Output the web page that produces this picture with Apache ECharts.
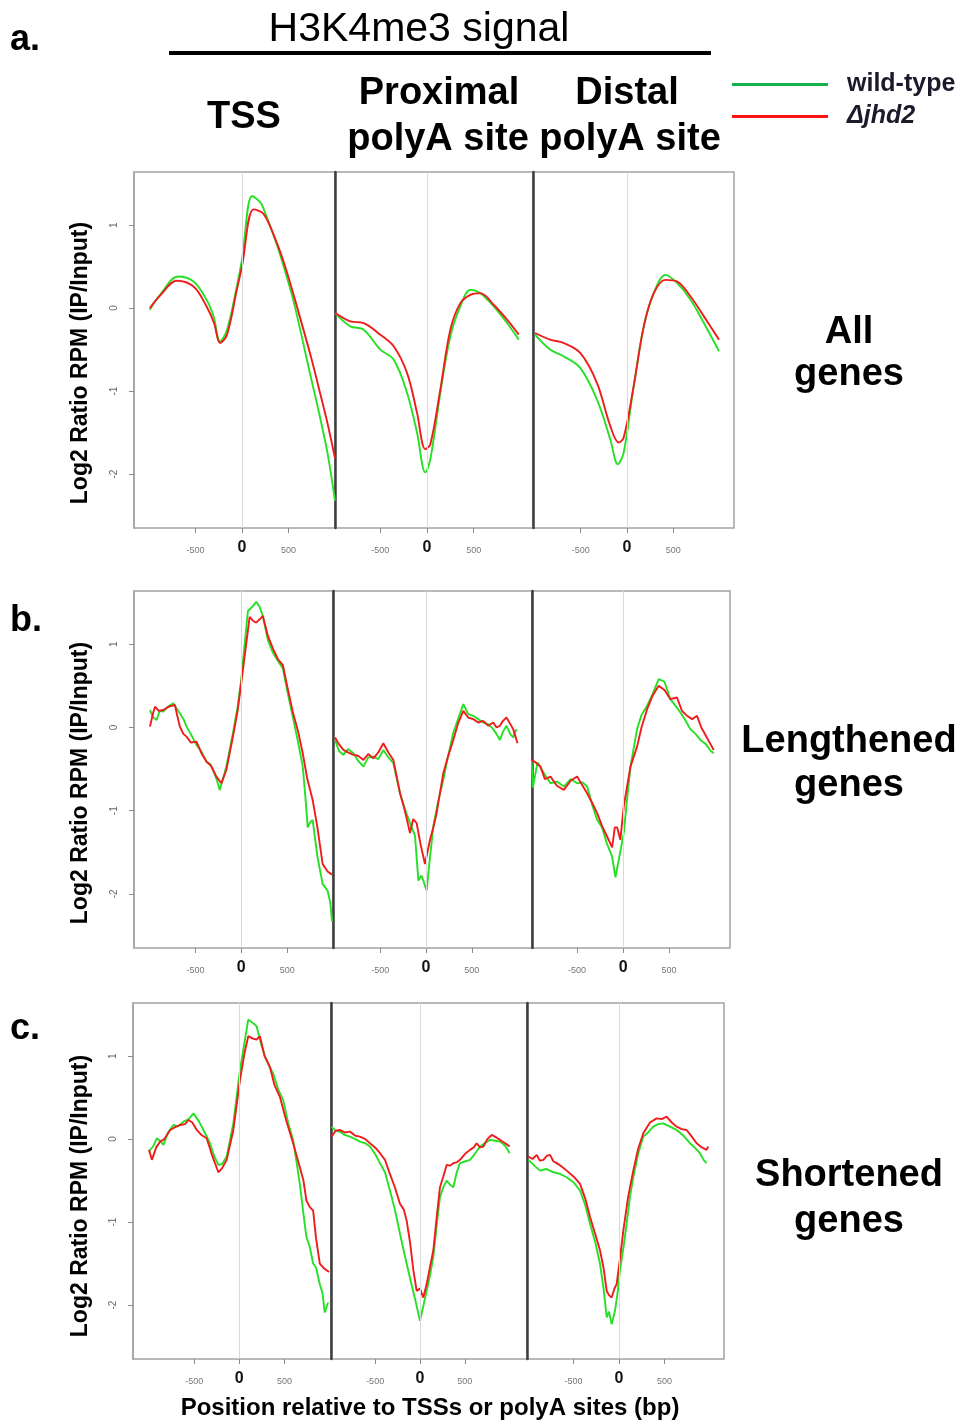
<!DOCTYPE html>
<html><head><meta charset="utf-8">
<script src="https://cdn.jsdelivr.net/npm/echarts@6/dist/echarts.min.js"></script>
<style>html,body{margin:0;padding:0;background:#fff}#c{width:966px;height:1422px}</style>
</head><body><div id="c"></div>
<script>
// ---------------- DATA ----------------
const SERIES_NAMES = ['wild-type', 'Δjhd2'];
const PANEL_TITLES = ['TSS', 'Proximal\npolyA site', 'Distal\npolyA site'];
const ROW_LABELS = [['All', 'genes'], ['Lengthened', 'genes'], ['Shortened', 'genes']];
const ROW_TAGS = ['a.', 'b.', 'c.'];
const X_TICKS = [-500, 0, 500];
const Y_TICKS = [-2, -1, 0, 1];

// a. All genes  [position bp, log2 ratio]
const A_TSS_WT = [[-990,-0.02],[-880,0.16],[-685,0.38],[-520,0.32],[-380,0.10],[-305,-0.10],[-235,-0.40],[-160,-0.26],[-55,0.26],[0,0.58],[110,1.35],[200,1.27],[235,1.19],[380,0.75],[470,0.42],[560,0.06],[740,-0.83],[830,-1.27],[920,-1.75],[1000,-2.32]];
const A_TSS_KO = [[-990,0.0],[-880,0.15],[-700,0.33],[-520,0.26],[-380,0.02],[-300,-0.18],[-235,-0.42],[-160,-0.32],[-55,0.22],[0,0.50],[125,1.19],[235,1.13],[380,0.77],[470,0.48],[560,0.14],[740,-0.58],[830,-0.98],[920,-1.39],[1000,-1.81]];
const A_PROX_WT = [[-982,-0.06],[-821,-0.22],[-678,-0.26],[-500,-0.50],[-357,-0.62],[-214,-1.02],[-107,-1.50],[-18,-1.98],[36,-1.82],[143,-1.02],[250,-0.34],[357,0.02],[464,0.22],[571,0.18],[714,0.02],[857,-0.18],[982,-0.38]];
const A_PROX_KO = [[-982,-0.06],[-821,-0.16],[-678,-0.18],[-500,-0.32],[-357,-0.46],[-214,-0.78],[-107,-1.26],[-18,-1.70],[36,-1.64],[143,-0.98],[250,-0.26],[357,0.06],[464,0.16],[571,0.18],[714,0.04],[857,-0.14],[982,-0.32]];
const A_DIST_WT = [[-993,-0.32],[-830,-0.50],[-686,-0.58],[-505,-0.72],[-325,-1.10],[-181,-1.58],[-100,-1.88],[-36,-1.74],[72,-0.94],[181,-0.22],[289,0.18],[415,0.40],[542,0.30],[686,0.10],[830,-0.18],[993,-0.52]];
const A_DIST_KO = [[-993,-0.30],[-830,-0.38],[-686,-0.42],[-505,-0.54],[-325,-0.90],[-181,-1.42],[-90,-1.62],[-36,-1.56],[72,-0.94],[181,-0.22],[289,0.18],[415,0.34],[542,0.32],[686,0.14],[830,-0.10],[993,-0.38]];

// b. Lengthened genes
const B_TSS_WT = [[-996,0.21],[-960,0.12],[-923,0.09],[-890,0.20],[-851,0.19],[-800,0.25],[-742,0.29],[-700,0.22],[-670,0.17],[-630,0.10],[-597,0.01],[-550,-0.08],[-489,-0.21],[-440,-0.28],[-380,-0.41],[-340,-0.44],[-308,-0.51],[-270,-0.62],[-235,-0.75],[-200,-0.62],[-163,-0.47],[-91,-0.07],[-40,0.25],[0,0.58],[72,1.40],[120,1.45],[163,1.51],[200,1.45],[235,1.34],[290,1.05],[344,0.90],[400,0.80],[453,0.71],[500,0.45],[561,0.13],[620,-0.18],[670,-0.47],[700,-0.85],[724,-1.20],[750,-1.14],[778,-1.11],[830,-1.55],[887,-1.88],[941,-1.96],[970,-2.10],[990,-2.33]];
const B_TSS_KO = [[-996,0.01],[-960,0.18],[-941,0.25],[-900,0.20],[-851,0.21],[-790,0.25],[-724,0.27],[-700,0.15],[-670,0.01],[-630,-0.08],[-597,-0.11],[-550,-0.18],[-489,-0.17],[-430,-0.32],[-380,-0.41],[-330,-0.46],[-272,-0.59],[-217,-0.67],[-163,-0.51],[-91,-0.11],[-40,0.20],[0,0.54],[91,1.33],[130,1.28],[163,1.26],[200,1.30],[235,1.34],[290,1.10],[344,0.95],[400,0.82],[453,0.75],[500,0.50],[561,0.19],[620,-0.05],[670,-0.31],[720,-0.62],[778,-0.87],[830,-1.20],[887,-1.64],[941,-1.73],[990,-1.77]];
const B_PROX_WT = [[-991,-0.15],[-950,-0.28],[-900,-0.33],[-850,-0.26],[-791,-0.31],[-740,-0.40],[-682,-0.47],[-630,-0.36],[-574,-0.35],[-520,-0.38],[-465,-0.27],[-410,-0.36],[-356,-0.43],[-283,-0.79],[-230,-0.98],[-174,-1.15],[-120,-1.30],[-83,-1.84],[-50,-1.78],[-29,-1.84],[7,-1.96],[40,-1.60],[80,-1.19],[130,-0.90],[189,-0.63],[240,-0.35],[298,-0.06],[350,0.10],[407,0.28],[460,0.16],[515,0.14],[570,0.10],[624,0.06],[680,0.04],[733,-0.02],[770,-0.08],[806,-0.15],[840,-0.05],[878,0.02],[920,-0.08],[951,-0.12],[987,-0.02]];
const B_PROX_KO = [[-991,-0.12],[-950,-0.20],[-900,-0.27],[-850,-0.30],[-791,-0.33],[-740,-0.34],[-682,-0.39],[-630,-0.32],[-574,-0.37],[-520,-0.30],[-465,-0.19],[-410,-0.30],[-356,-0.39],[-283,-0.79],[-230,-1.00],[-174,-1.27],[-140,-1.10],[-102,-1.15],[-60,-1.40],[-11,-1.64],[44,-1.35],[80,-1.20],[116,-1.03],[150,-0.80],[189,-0.55],[240,-0.35],[298,-0.15],[350,0.05],[407,0.20],[460,0.12],[515,0.10],[570,0.06],[624,0.08],[680,0.02],[733,0.06],[770,0.00],[806,0.02],[840,0.08],[878,0.12],[920,0.04],[951,-0.02],[998,-0.19]];
const B_DIST_WT = [[-995,-0.40],[-980,-0.72],[-930,-0.42],[-860,-0.55],[-789,-0.67],[-720,-0.65],[-644,-0.71],[-570,-0.62],[-500,-0.67],[-440,-0.66],[-391,-0.71],[-330,-0.95],[-282,-1.11],[-230,-1.20],[-174,-1.40],[-120,-1.55],[-83,-1.80],[-40,-1.55],[7,-1.27],[40,-0.90],[80,-0.47],[152,-0.02],[200,0.15],[261,0.26],[320,0.40],[387,0.58],[450,0.55],[514,0.34],[570,0.26],[623,0.18],[680,0.08],[731,-0.02],[790,-0.08],[840,-0.15],[900,-0.20],[950,-0.28],[985,-0.31]];
const B_DIST_KO = [[-995,-0.39],[-950,-0.42],[-898,-0.47],[-850,-0.62],[-789,-0.59],[-720,-0.70],[-644,-0.75],[-570,-0.64],[-500,-0.59],[-440,-0.70],[-391,-0.79],[-330,-0.92],[-282,-1.03],[-230,-1.18],[-174,-1.31],[-119,-1.44],[-90,-1.20],[-65,-1.20],[-30,-1.35],[7,-0.95],[80,-0.47],[152,-0.23],[200,0.00],[261,0.22],[320,0.38],[387,0.50],[450,0.45],[514,0.34],[586,0.36],[640,0.20],[695,0.14],[750,0.10],[804,0.14],[850,0.00],[900,-0.10],[950,-0.20],[985,-0.27]];

// c. Shortened genes
const C_TSS_WT = [[-1000,-0.15],[-950,-0.08],[-913,0.01],[-870,-0.03],[-839,-0.07],[-790,0.08],[-729,0.17],[-680,0.15],[-618,0.21],[-560,0.24],[-508,0.31],[-450,0.22],[-397,0.11],[-324,-0.05],[-280,-0.20],[-232,-0.31],[-190,-0.30],[-140,-0.21],[-66,0.19],[7,0.83],[99,1.44],[150,1.40],[191,1.36],[240,1.15],[283,1.00],[330,0.88],[375,0.79],[430,0.60],[486,0.47],[540,0.20],[596,-0.01],[630,-0.25],[670,-0.54],[710,-0.90],[743,-1.18],[780,-1.30],[817,-1.50],[850,-1.55],[891,-1.75],[920,-1.85],[946,-2.09],[983,-1.97]];
const C_TSS_KO = [[-1000,-0.13],[-968,-0.25],[-920,-0.10],[-876,-0.03],[-830,0.00],[-765,0.11],[-700,0.15],[-655,0.17],[-600,0.18],[-563,0.23],[-520,0.20],[-471,0.11],[-420,0.05],[-361,0.01],[-300,-0.20],[-232,-0.40],[-190,-0.35],[-140,-0.25],[-66,0.11],[7,0.71],[60,1.05],[99,1.24],[150,1.21],[191,1.20],[228,1.24],[280,1.00],[339,0.87],[390,0.65],[449,0.51],[520,0.22],[596,-0.05],[670,-0.34],[710,-0.50],[743,-0.74],[780,-0.82],[817,-0.86],[850,-1.20],[891,-1.50],[930,-1.55],[964,-1.58],[994,-1.60]];
const C_PROX_WT = [[-986,0.15],[-940,0.10],[-893,0.09],[-840,0.05],[-781,0.03],[-720,0.00],[-670,-0.03],[-610,-0.05],[-558,-0.09],[-500,-0.18],[-446,-0.29],[-390,-0.40],[-335,-0.62],[-280,-0.85],[-223,-1.14],[-170,-1.40],[-112,-1.67],[-50,-1.95],[0,-2.19],[40,-2.00],[74,-1.83],[110,-1.65],[149,-1.42],[190,-1.00],[223,-0.70],[260,-0.58],[298,-0.50],[335,-0.55],[372,-0.58],[410,-0.40],[446,-0.29],[500,-0.27],[558,-0.25],[610,-0.18],[670,-0.09],[720,-0.05],[781,-0.01],[840,-0.02],[893,-0.03],[950,-0.08],[1000,-0.17]];
const C_PROX_KO = [[-986,0.03],[-940,0.10],[-893,0.11],[-840,0.08],[-781,0.09],[-720,0.04],[-670,0.03],[-610,0.00],[-558,-0.05],[-500,-0.10],[-446,-0.17],[-390,-0.25],[-335,-0.42],[-280,-0.58],[-223,-0.78],[-180,-0.85],[-149,-0.98],[-110,-1.25],[-74,-1.58],[-37,-1.83],[0,-1.80],[37,-1.91],[74,-1.75],[110,-1.55],[149,-1.34],[190,-0.90],[223,-0.58],[260,-0.45],[298,-0.31],[335,-0.32],[372,-0.29],[410,-0.28],[446,-0.25],[500,-0.18],[558,-0.13],[600,-0.10],[632,-0.05],[670,-0.10],[707,-0.09],[750,0.00],[800,0.05],[850,0.02],[893,-0.01],[950,-0.05],[1000,-0.09]];
const C_DIST_WT = [[-996,-0.25],[-930,-0.32],[-867,-0.38],[-800,-0.36],[-721,-0.40],[-650,-0.42],[-575,-0.46],[-500,-0.52],[-428,-0.62],[-370,-0.80],[-318,-1.02],[-260,-1.25],[-209,-1.50],[-170,-1.80],[-135,-2.15],[-110,-2.08],[-81,-2.23],[-44,-2.07],[-15,-1.85],[11,-1.58],[50,-1.30],[84,-1.02],[120,-0.70],[157,-0.46],[210,-0.18],[267,0.03],[320,0.08],[377,0.15],[430,0.18],[487,0.19],[560,0.15],[633,0.11],[700,0.05],[780,-0.05],[830,-0.10],[889,-0.17],[930,-0.25],[962,-0.29]];
const C_DIST_KO = [[-996,-0.21],[-950,-0.24],[-904,-0.19],[-870,-0.26],[-831,-0.25],[-790,-0.20],[-758,-0.19],[-720,-0.27],[-684,-0.29],[-630,-0.33],[-575,-0.38],[-500,-0.45],[-428,-0.54],[-370,-0.72],[-318,-0.94],[-260,-1.15],[-209,-1.34],[-170,-1.55],[-135,-1.83],[-110,-1.88],[-81,-1.91],[-50,-1.80],[-26,-1.75],[10,-1.45],[48,-1.10],[100,-0.70],[157,-0.38],[210,-0.12],[267,0.07],[340,0.20],[414,0.25],[470,0.24],[523,0.27],[580,0.20],[633,0.15],[690,0.12],[743,0.11],[800,0.03],[853,-0.05],[910,-0.10],[962,-0.13],[981,-0.09]];

const PANEL_DATA = [
  [A_TSS_WT, A_TSS_KO], [A_PROX_WT, A_PROX_KO], [A_DIST_WT, A_DIST_KO],
  [B_TSS_WT, B_TSS_KO], [B_PROX_WT, B_PROX_KO], [B_DIST_WT, B_DIST_KO],
  [C_TSS_WT, C_TSS_KO], [C_PROX_WT, C_PROX_KO], [C_DIST_WT, C_DIST_KO]
];

// ---------------- LAYOUT / STYLE ----------------
const FONT = "'Liberation Sans', Arial, sans-serif";
const GREEN = '#26e026', RED = '#f01c1c';
const Y_RANGE = [-2.65, 1.64];
const LAYOUT = [
  {top:172, h:356, tagY:40, labelY:[333,375], ytitleY:363, panels:[{l:134,w:201,x:[-1160,1000]},{l:335,w:198,x:[-985,1135]},{l:533,w:201,x:[-1015,1155]}]},
  {top:591, h:357, tagY:621, labelY:[742,786], ytitleY:783, panels:[{l:134,w:199,x:[-1170,1000]},{l:333,w:199,x:[-1014,1156]},{l:532,w:198,x:[-990,1162]}]},
  {top:1003,h:356, tagY:1029, labelY:[1176,1222], ytitleY:1196, panels:[{l:133,w:198,x:[-1177,1015]},{l:331,w:196,x:[-992,1193]},{l:527,w:197,x:[-1011,1154]}]}
];

const grids = [], xAxes = [], yAxes = [], series = [], graphics = [];
LAYOUT.forEach((row, r) => row.panels.forEach((pn, p) => {
  const i = r * 3 + p;
  grids.push({left: pn.l, top: row.top, width: pn.w, height: row.h, show: true,
    borderColor: '#a3a3a3', borderWidth: 1.5, backgroundColor: '#fff'});
  xAxes.push({gridIndex: i, type: 'value', min: pn.x[0], max: pn.x[1],
    axisLine: {show: false, onZero: false}, splitLine: {show: false},
    axisTick: {show: true, customValues: X_TICKS, length: 5, lineStyle: {color: '#8a8a8a', width: 1}},
    axisLabel: {customValues: X_TICKS, margin: 12, fontFamily: FONT,
      formatter: v => v === 0 ? '{z|0}' : '{n|' + v + '}',
      rich: {z: {fontSize: 16, fontWeight: 'bold', color: '#111', lineHeight: 16, fontFamily: FONT},
             n: {fontSize: 9, color: '#777', lineHeight: 22, fontFamily: FONT}}}});
  const first = p === 0;
  yAxes.push({gridIndex: i, type: 'value', min: Y_RANGE[0], max: Y_RANGE[1],
    splitLine: {show: false},
    axisLine: {show: true, onZero: false, lineStyle: first ? {color: '#a3a3a3', width: 1.5} : {color: '#3e3e3e', width: 2.5}},
    axisTick: {show: first, customValues: Y_TICKS, length: 5, lineStyle: {color: '#8a8a8a'}},
    axisLabel: {show: first, customValues: Y_TICKS, rotate: 90, margin: 15, fontSize: 10, color: '#666', fontFamily: FONT}});
  series.push({type: 'line', xAxisIndex: i, yAxisIndex: i, data: [], z: 1, silent: true,
    markLine: {silent: true, symbol: 'none', animation: false, label: {show: false},
      lineStyle: {color: '#d9d9d9', width: 1, type: 'solid'}, data: [{xAxis: 0}]}});
  const smooth = r === 0 ? 0.35 : false;
  series.push({type: 'line', name: SERIES_NAMES[0], xAxisIndex: i, yAxisIndex: i, data: PANEL_DATA[i][0],
    showSymbol: false, smooth, z: 3, color: GREEN, lineStyle: {color: GREEN, width: 1.9}});
  series.push({type: 'line', name: SERIES_NAMES[1], xAxisIndex: i, yAxisIndex: i, data: PANEL_DATA[i][1],
    showSymbol: false, smooth, z: 4, color: RED, lineStyle: {color: RED, width: 1.9}});
}));

const txt = (text, x, y, size, o = {}) => ({type: 'text', x, y, rotation: o.rot || 0, z: 10,
  style: {text, fontSize: size, fontWeight: o.w || 'bold', fontStyle: o.it ? 'italic' : 'normal',
    fontFamily: FONT, fill: '#000', textAlign: o.align || 'center', textVerticalAlign: 'middle'}});

LAYOUT.forEach((row, r) => {
  graphics.push(txt(ROW_TAGS[r], 10, row.tagY, 36, {align: 'left'}));
  graphics.push(txt(ROW_LABELS[r][0], 849, row.labelY[0], 38));
  graphics.push(txt(ROW_LABELS[r][1], 849, row.labelY[1], 38));
  graphics.push(txt('Log2 Ratio RPM (IP/Input)', 81, row.ytitleY, 23, {rot: Math.PI / 2}));
});
graphics.push(txt('H3K4me3 signal', 419, 30, 41, {w: 'normal'}));
graphics.push({type: 'line', z: 10, shape: {x1: 169, y1: 53, x2: 711, y2: 53}, style: {stroke: '#000', lineWidth: 4}});
graphics.push(txt(PANEL_TITLES[0], 244, 118, 38));
const pt1 = PANEL_TITLES[1].split('\n'), pt2 = PANEL_TITLES[2].split('\n');
graphics.push(txt(pt1[0], 439, 94, 38));
graphics.push(txt(pt1[1], 438, 140, 38));
graphics.push(txt(pt2[0], 627, 94, 38));
graphics.push(txt(pt2[1], 630, 140, 38));
graphics.push(txt('Position relative to TSSs or polyA sites (bp)', 430, 1408, 24));

const chart = echarts.init(document.getElementById('c'), null, {renderer: 'canvas'});
chart.setOption({
  animation: false,
  backgroundColor: '#fff',
  grid: grids, xAxis: xAxes, yAxis: yAxes, series,
  legend: {show: true, left: 732, top: 72, orient: 'vertical', itemWidth: 96, itemHeight: 3, itemGap: 7, icon: 'rect',
    selectedMode: false, padding: 0,
    data: [{name: SERIES_NAMES[0], itemStyle: {color: '#14b24c'}}, {name: SERIES_NAMES[1], itemStyle: {color: '#ff1212'}}],
    formatter: n => n === SERIES_NAMES[1] ? '{i|' + n + '}' : '{w|' + n + '}',
    textStyle: {padding: [0, 0, 0, 14], rich: {
      w: {fontSize: 25, fontWeight: 'bold', color: '#1a1a2a', fontFamily: FONT},
      i: {fontSize: 25, fontWeight: 'bold', fontStyle: 'italic', color: '#1a1a2a', fontFamily: FONT}}}},
  graphic: graphics
});
</script></body></html>
